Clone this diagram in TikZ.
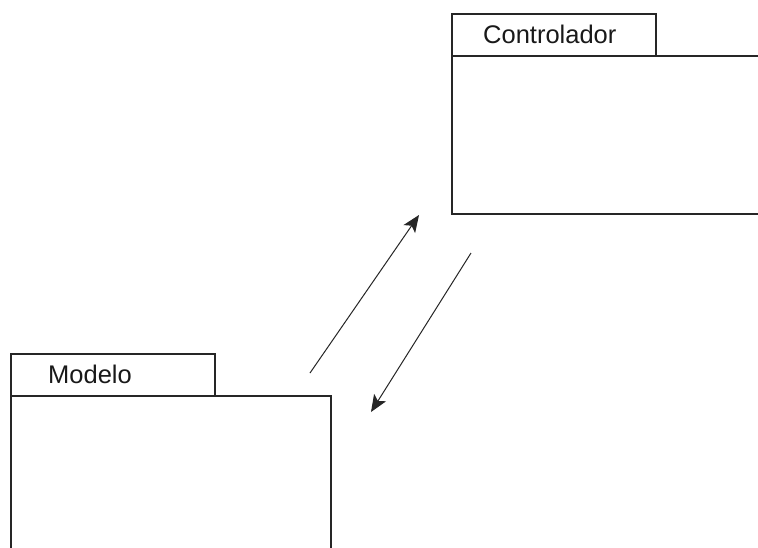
\documentclass[tikz,border=0pt]{standalone}
\usepackage{fontspec}
\setmainfont{Liberation Sans}
\usetikzlibrary{arrows.meta}
\begin{document}
\begin{tikzpicture}[x=1pt,y=-1pt,
  pkgtab/.style={draw=black!85, line width=1.5pt, fill=white, inner sep=0pt,
    anchor=north west, minimum width=204pt, minimum height=42pt},
  pkgbody/.style={draw=black!85, line width=1.5pt, fill=white, inner sep=0pt,
    anchor=north west},
  pkglabel/.style={anchor=west, inner sep=0pt, font=\fontsize{25.5}{28}\selectfont, text=black!90},
  msg/.style={draw=black!85, line width=1pt,
    -{Stealth[length=17pt, width=14pt, inset=4pt]}}]
  \useasboundingbox (0,0) rectangle (758,547);
  \clip (0,0) rectangle (758,547);
  \fill[white] (0,0) rectangle (758,547);

  % Controlador package
  \node[pkgtab] (ctab) at (451,13) {};
  \node[pkgbody, minimum width=330pt, minimum height=158pt] (cbody) at (451,55) {};
  \node[pkglabel] (clabel) at (483,34) {Controlador};

  % Modelo package
  \node[pkgtab] (mtab) at (10,353) {};
  \node[pkgbody, minimum width=320pt, minimum height=180pt] (mbody) at (10,395) {};
  \node[pkglabel] (mlabel) at (48,374) {Modelo};

  % message arrows between the packages
  \coordinate (up0) at (310,373);
  \coordinate (up1) at (419,215);
  \coordinate (dn0) at (471,253);
  \coordinate (dn1) at (371,412);
  \draw[msg] (up0) -- (up1);
  \draw[msg] (dn0) -- (dn1);
\end{tikzpicture}
\end{document}
